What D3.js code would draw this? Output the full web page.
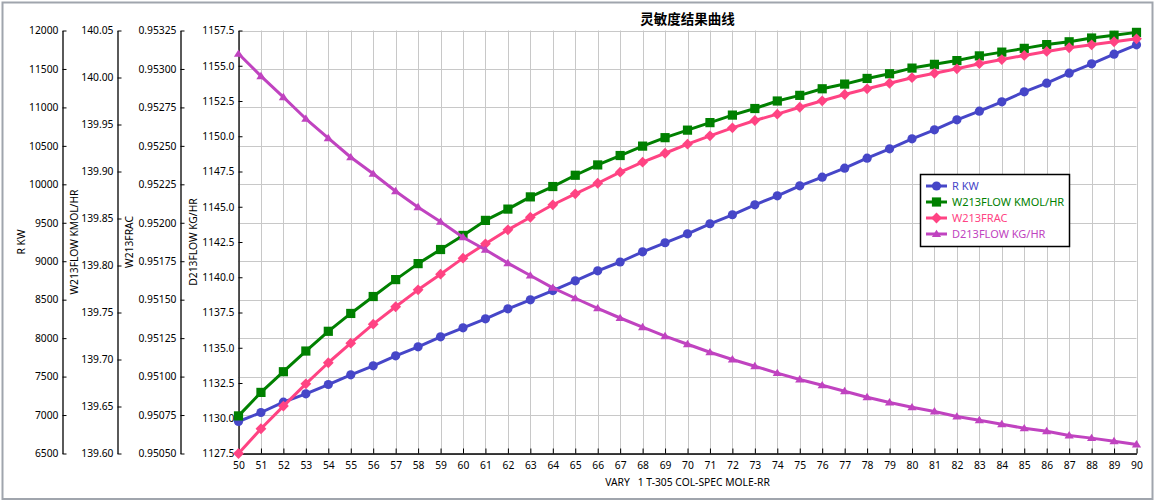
<!DOCTYPE html>
<html><head><meta charset="utf-8">
<script src="https://cdn.jsdelivr.net/npm/d3@7"></script>
<style>
body{margin:0;background:#fff}
svg{display:block}
text{font-family:"Segoe UI","Noto Sans",sans-serif}
</style>
</head><body>
<svg id="c" width="1156" height="502"></svg>
<script>
// ---------------- data ----------------
const chartTitle = "灵敏度结果曲线";
const xTitle = "VARY   1 T-305 COL-SPEC MOLE-RR";
const xValues = [50,51,52,53,54,55,56,57,58,59,60,61,62,63,64,65,66,67,68,69,70,
                 71,72,73,74,75,76,77,78,79,80,81,82,83,84,85,86,87,88,89,90];
const seriesNames = ["R KW","W213FLOW KMOL/HR","W213FRAC","D213FLOW KG/HR"];
const rKW = [6916,7033,7167,7276,7397,7523,7640,7770,7887,8017,8134,8251,8381,8498,8619,8745,8875,8990,
             9122,9240,9356,9487,9604,9734,9851,9981,10093,10210,10340,10462,10592,10709,10839,10951,
             11073,11203,11315,11445,11567,11692,11814];
const w213Flow = [139.640,139.665,139.687,139.709,139.730,139.749,139.767,139.785,139.802,139.817,139.832,
                  139.848,139.860,139.873,139.884,139.896,139.907,139.917,139.927,139.936,139.944,139.952,
                  139.960,139.967,139.975,139.981,139.988,139.993,139.999,140.004,140.010,140.014,140.018,
                  140.023,140.027,140.031,140.035,140.038,140.042,140.045,140.048];
const w213Frac = [0.950500,0.950661,0.950808,0.950953,0.951090,0.951217,0.951341,0.951454,0.951564,0.951666,
                  0.951770,0.951863,0.951954,0.952036,0.952117,0.952188,0.952257,0.952329,0.952394,0.952452,
                  0.952511,0.952565,0.952617,0.952665,0.952706,0.952751,0.952793,0.952834,0.952871,0.952907,
                  0.952943,0.952972,0.953001,0.953034,0.953061,0.953088,0.953114,0.953138,0.953157,0.953177,
                  0.953196];
const d213Flow = [1155.85,1154.26,1152.77,1151.24,1149.86,1148.51,1147.34,1146.10,1144.97,1143.93,1142.84,
                  1141.95,1141.00,1140.12,1139.25,1138.51,1137.80,1137.11,1136.46,1135.82,1135.25,1134.68,
                  1134.17,1133.69,1133.20,1132.75,1132.34,1131.92,1131.49,1131.12,1130.78,1130.48,1130.12,
                  1129.86,1129.58,1129.29,1129.08,1128.78,1128.59,1128.37,1128.14];
const rTicks = [6500,7000,7500,8000,8500,9000,9500,10000,10500,11000,11500,12000];
const flowTicks = [139.60,139.65,139.70,139.75,139.80,139.85,139.90,139.95,140.00,140.05];
const fracTicks = [0.95050,0.95075,0.95100,0.95125,0.95150,0.95175,0.95200,0.95225,0.95250,0.95275,0.95300,0.95325];
const dTicks = [1127.5,1130.0,1132.5,1135.0,1137.5,1140.0,1142.5,1145.0,1147.5,1150.0,1152.5,1155.0,1157.5];

// ---------------- layout ----------------
const svg = d3.select("#c");
const L = 238.5, R = 1136.5, T = 30.5, B = 453.5;
const colors = ["#4646c8","#008000","#ff4383","#c043c0"];
const fontSize = 10.3;

svg.append("rect").attr("x",2.5).attr("y",2.5).attr("width",1150).attr("height",496.5)
  .attr("fill","#fff").attr("stroke","#a0a5ad").attr("stroke-width",2);

const x = d3.scaleLinear().domain([50,90]).range([L,R]);

const axesDef = [
  {title:seriesNames[0], domain:[6500,12000], ticks:rTicks, fmt:d3.format("d"), ax:62.5, tx:24.5, data:rKW},
  {title:seriesNames[1], domain:[139.60,140.05], ticks:flowTicks, fmt:d3.format(".2f"), ax:117.5, tx:78, data:w213Flow},
  {title:seriesNames[2], domain:[0.9505,0.95325], ticks:fracTicks, fmt:d3.format(".5f"), ax:180.5, tx:133, data:w213Frac},
  {title:seriesNames[3], domain:[1127.5,1157.5], ticks:dTicks, fmt:d3.format(".1f"), ax:L, tx:196.5, data:d213Flow}
];
axesDef.forEach(a => a.y = d3.scaleLinear().domain(a.domain).range([B,T]));

// grid
const grid = svg.append("g").attr("stroke","#c8c8c8").attr("stroke-width",1);
grid.selectAll("line.v").data(xValues).join("line").attr("class","v")
  .attr("x1",d=>Math.round(x(d))+0.5).attr("x2",d=>Math.round(x(d))+0.5).attr("y1",T).attr("y2",B);
grid.selectAll("line.h").data(rTicks).join("line").attr("class","h")
  .attr("x1",L).attr("x2",R).attr("y1",d=>Math.round(axesDef[0].y(d))+0.5).attr("y2",d=>Math.round(axesDef[0].y(d))+0.5);

// y axes
axesDef.forEach(a => {
  const g = svg.append("g").attr("transform",`translate(${a.ax},0)`)
    .call(d3.axisLeft(a.y).tickValues(a.ticks).tickFormat(a.fmt).tickSizeInner(-4).tickSizeOuter(0).tickPadding(4));
  g.select(".domain").attr("stroke","#000").attr("stroke-width",1.3);
  g.selectAll(".tick line").attr("stroke","#000");
  g.selectAll("text").attr("font-size",fontSize).attr("fill","#000").attr("font-family",null);
  svg.append("text").attr("transform",`translate(${a.tx},${(T+B)/2}) rotate(-90)`)
    .attr("text-anchor","middle").attr("font-size",fontSize).attr("fill","#000").text(a.title);
});

// x axis
const gx = svg.append("g").attr("transform",`translate(0,${B})`)
  .call(d3.axisBottom(x).tickValues(xValues).tickFormat(d3.format("d")).tickSizeInner(-5).tickSizeOuter(0).tickPadding(8));
gx.select(".domain").attr("stroke","#000").attr("stroke-width",1.3);
gx.selectAll(".tick line").attr("stroke","#000");
gx.selectAll("text").attr("font-size",fontSize).attr("fill","#000").attr("font-family",null);
svg.append("text").attr("x",(L+R)/2).attr("y",486).attr("text-anchor","middle")
  .attr("font-size",fontSize).attr("fill","#000").style("white-space","pre").text(xTitle);

// title
svg.append("text").attr("x",(L+R)/2).attr("y",24).attr("text-anchor","middle")
  .attr("font-size",13.5).attr("font-weight","bold").attr("fill","#000")
  .style("font-family",'"Noto Sans CJK SC",sans-serif').text(chartTitle);

// symbols
const diamond = {draw(ctx,size){const r=size; ctx.moveTo(0,-r);ctx.lineTo(r,0);ctx.lineTo(0,r);ctx.lineTo(-r,0);ctx.closePath();}};
const tri = {draw(ctx,size){const r=size; ctx.moveTo(0,-r*0.95);ctx.lineTo(r,r*0.65);ctx.lineTo(-r,r*0.65);ctx.closePath();}};
const square = {draw(ctx,size){const r=size; ctx.rect(-r,-r,2*r,2*r);}};
const circle = {draw(ctx,size){ctx.moveTo(size,0);ctx.arc(0,0,size,0,2*Math.PI);}};
const symTypes = [[circle,4.6],[square,4.6],[diamond,5.4],[tri,4.6]];

// series
axesDef.forEach((a,i) => {
  const line = d3.line().x((d,j)=>x(xValues[j])).y(d=>a.y(d));
  const g = svg.append("g");
  g.append("path").datum(a.data).attr("d",line).attr("fill","none")
    .attr("stroke",colors[i]).attr("stroke-width",3).attr("stroke-linejoin","round");
  g.selectAll("path.m").data(a.data).join("path").attr("class","m")
    .attr("transform",(d,j)=>`translate(${x(xValues[j])},${a.y(d)})`)
    .attr("d",d3.symbol().type(symTypes[i][0]).size(symTypes[i][1]))
    .attr("fill",colors[i]);
});

// legend
const lg = svg.append("g");
lg.append("rect").attr("x",920.5).attr("y",174.5).attr("width",149).attr("height",72)
  .attr("fill","#fff").attr("stroke","#000").attr("stroke-width",1.5);
seriesNames.forEach((n,i) => {
  const yy = 186 + i*16;
  lg.append("line").attr("x1",926).attr("x2",947).attr("y1",yy).attr("y2",yy)
    .attr("stroke",colors[i]).attr("stroke-width",3);
  lg.append("path").attr("transform",`translate(936.5,${yy})`)
    .attr("d",d3.symbol().type(symTypes[i][0]).size(symTypes[i][1]))
    .attr("fill",colors[i]);
  lg.append("text").attr("x",952).attr("y",yy+4).attr("font-size",11).attr("fill",colors[i]).text(n);
});
</script>
</body></html>
